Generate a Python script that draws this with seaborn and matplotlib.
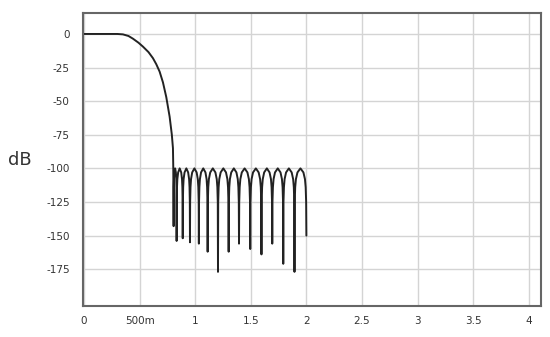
import numpy as np
import pandas as pd
import seaborn as sns
import matplotlib.pyplot as plt

# Passband and transition band (freq in Hz-normalised units, level in dB)
pass_freq = [0.0, 0.30, 0.35, 0.40, 0.44, 0.49, 0.53, 0.58, 0.62, 0.65, 0.68,
             0.71, 0.74, 0.77, 0.79, 0.80, 0.803]
pass_db = [0.0, 0.0, -0.3, -1.5, -3.5, -6.5, -9.4, -13.5, -18.0, -22.5, -28.0,
           -36.0, -47.0, -61.5, -75.0, -85.0, -100.0]

# Stopband nulls (position, depth)
null_freq = [0.806, 0.833, 0.888, 0.953, 1.033, 1.112, 1.205, 1.301, 1.394,
             1.495, 1.596, 1.693, 1.792, 1.893, 2.0]
null_db = [-143, -154, -152, -155, -156, -162, -177, -162, -156,
           -160, -164, -156, -171, -177, -150]

# Stopband lobe shape: peak level and profile (fraction of lobe width, dB below peak)
lobe_peak_db = -100
lobe_pos = [0.02, 0.06, 0.12, 0.25, 0.5, 0.75, 0.88, 0.94, 0.98]
lobe_drop = [-25, -14, -8, -3, 0, -3, -8, -14, -25]

xtick_vals = [0, 0.5, 1, 1.5, 2, 2.5, 3, 3.5, 4]
xtick_labels = ["0", "500m", "1", "1.5", "2", "2.5", "3", "3.5", "4"]
ytick_vals = [0, -25, -50, -75, -100, -125, -150, -175]
ytick_labels = ["0", "-25", "-50", "-75", "-100", "-125", "-150", "-175"]

freq = list(pass_freq)
db = list(pass_db)
for i in range(len(null_freq) - 1):
    a, b = null_freq[i], null_freq[i + 1]
    freq.append(a)
    db.append(null_db[i])
    for p, d in zip(lobe_pos, lobe_drop):
        freq.append(a + p * (b - a))
        db.append(lobe_peak_db + d)
freq.append(null_freq[-1])
db.append(null_db[-1])

df = pd.DataFrame({"freq": freq, "db": db})

sns.set_theme(style="whitegrid")
plt.rcParams["font.family"] = ["DejaVu Sans"]

fig = plt.figure(figsize=(5.5, 3.37), dpi=100)
ax = fig.add_axes([83 / 550, 1 - 306 / 337, 458 / 550, 293 / 337])
ax.set_facecolor("white")

sns.lineplot(data=df, x="freq", y="db", sort=False, estimator=None,
             color="#222222", linewidth=1.4, ax=ax)

ax.set_xlim(-0.009, 4.11)
ax.set_ylim(-202.4, 15.6)
ax.set_xticks(xtick_vals, xtick_labels)
ax.set_yticks(ytick_vals, ytick_labels)
ax.tick_params(axis="both", length=0, labelsize=7.5, colors="#333333")
ax.tick_params(axis="y", pad=9.5)
ax.tick_params(axis="x", pad=7)

ax.grid(True, color="#d4d4d4", linewidth=1.0)
for s in ax.spines.values():
    s.set_color("#666666")
    s.set_linewidth(1.5)
    s.set_visible(True)

ax.set_xlabel("")
ax.set_ylabel("dB", rotation=0, fontsize=13, color="#333333", va="center", ha="center")
ax.yaxis.set_label_coords((20 - 83) / 458, (306 - 160) / 293)

fig.savefig("out.png", dpi=100, facecolor="white")
